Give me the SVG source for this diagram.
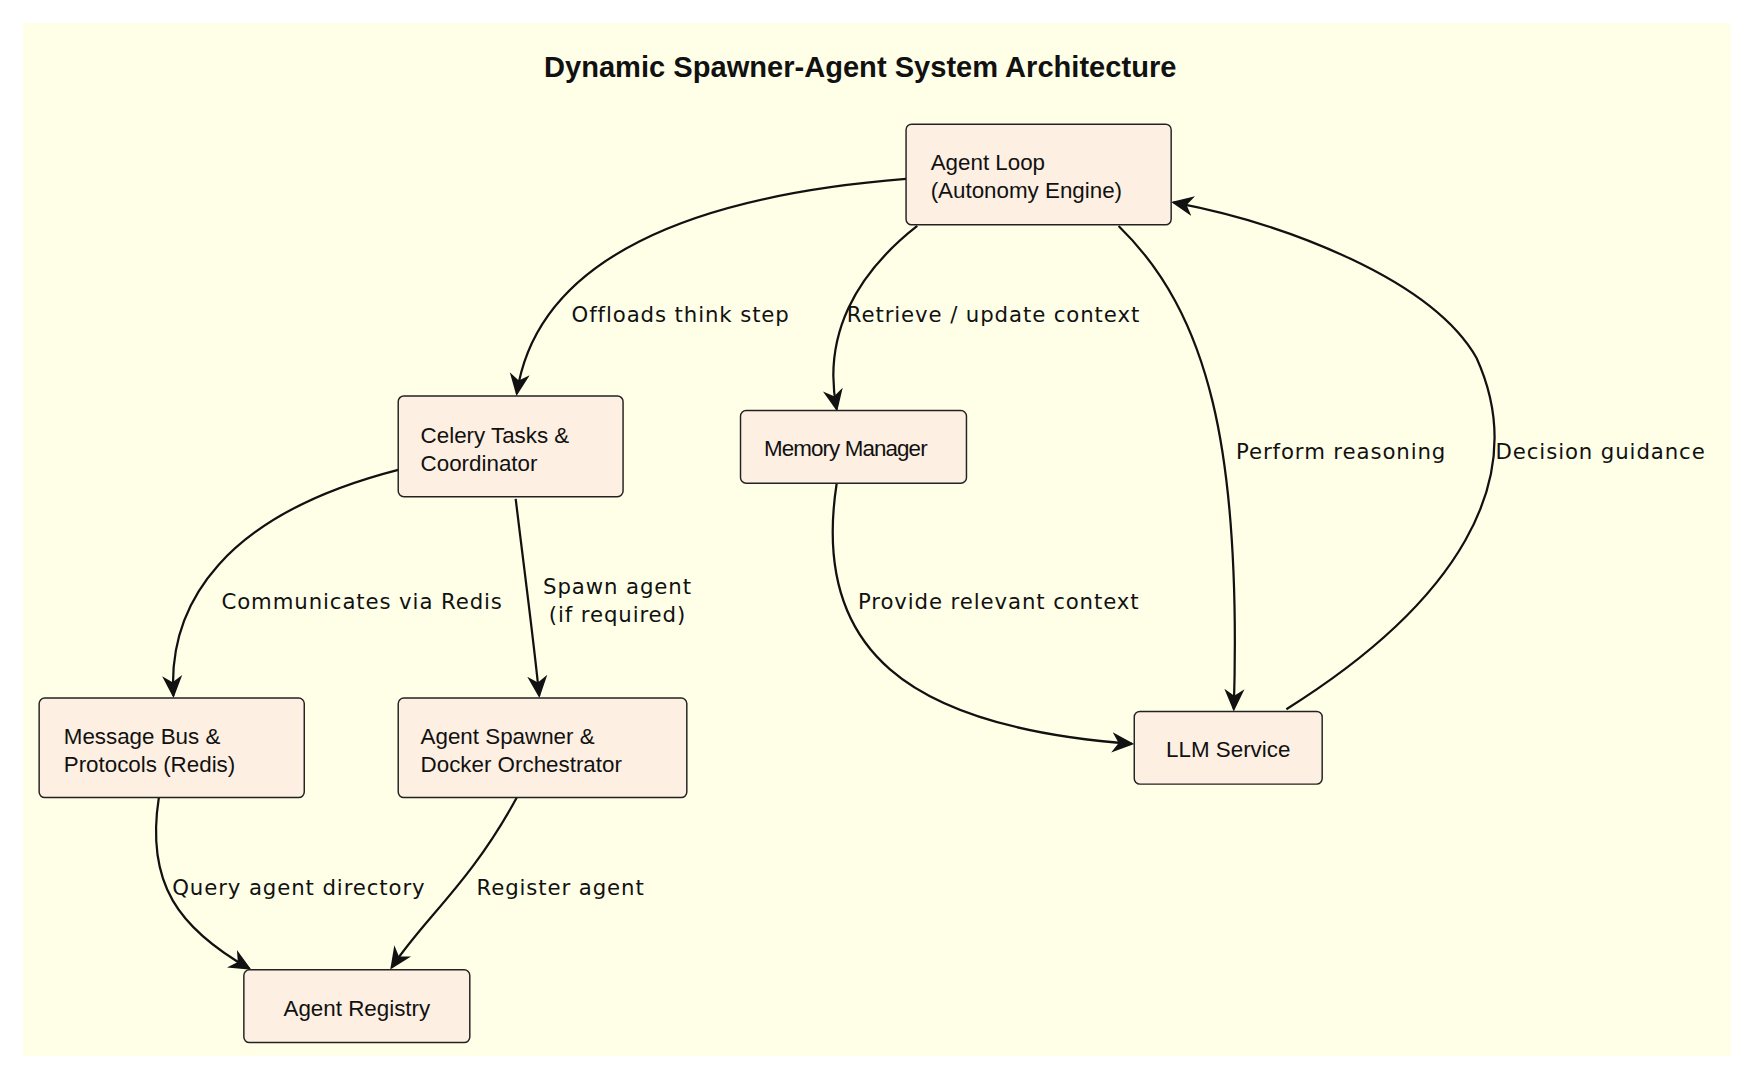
<svg xmlns="http://www.w3.org/2000/svg" width="1754" height="1080" viewBox="0 0 1754 1080">
<style>
.n rect{fill:#FDEFE2;stroke:#222;stroke-width:1.3}
.n text{font-family:"Liberation Sans",Arial,sans-serif;font-size:20px;fill:#111}
.e path{fill:none;stroke:#111;stroke-width:2}
.l{font-family:"DejaVu Sans","Liberation Sans",sans-serif;font-size:19px;fill:#111;letter-spacing:0.8px}
</style>
<defs>
<marker id="a" viewBox="0 0 20 20" refX="18" refY="10" markerWidth="20" markerHeight="20" markerUnits="userSpaceOnUse" orient="auto">
<path d="M0,1 L20,10 L0,19 L6,10 Z" fill="#111"/>
</marker>
</defs>
<rect width="1754" height="1080" fill="#fff"/>
<g transform="scale(1.1186)">
<rect x="20.5" y="20.5" width="1527" height="923.5" fill="#FFFFE8"/>
<text x="769" y="69" text-anchor="middle" font-family="Liberation Sans,Arial,sans-serif" font-weight="bold" font-size="26" fill="#111">Dynamic Spawner-Agent System Architecture</text>
<g class="e">
<path d="M810,160 C620,175 480,230 462,352" marker-end="url(#a)"/>
<path d="M820,202 C765,245 735,300 748,366" marker-end="url(#a)"/>
<path d="M1000,202 C1080,280 1110,400 1103,634" marker-end="url(#a)"/>
<path d="M1150,634 C1300,540 1370,430 1320,320 C1280,250 1150,200 1049,181" marker-end="url(#a)"/>
<path d="M356,420 C200,460 150,540 155,622" marker-end="url(#a)"/>
<path d="M461,446 C470,520 478,580 482,622" marker-end="url(#a)"/>
<path d="M748,432 C725,580 810,650 1012,665" marker-end="url(#a)"/>
<path d="M142,713 C130,790 160,830 223,866" marker-end="url(#a)"/>
<path d="M462,713 C420,790 380,820 350,865" marker-end="url(#a)"/>
</g>
<text class="l" x="511" y="288">Offloads think step</text>
<text class="l" x="757" y="288">Retrieve / update context</text>
<text class="l" x="1105" y="410">Perform reasoning</text>
<text class="l" x="1337" y="410">Decision guidance</text>
<text class="l" x="198" y="544">Communicates via Redis</text>
<text class="l" x="552" y="531" text-anchor="middle">Spawn agent</text>
<text class="l" x="552" y="556" text-anchor="middle">(if required)</text>
<text class="l" x="767" y="544">Provide relevant context</text>
<text class="l" x="154" y="800">Query agent directory</text>
<text class="l" x="426" y="800">Register agent</text>
<g id="agentloop" class="n"><rect x="810" y="111" width="237" height="90" rx="5"/><text x="832" y="152">Agent Loop</text><text x="832" y="177">(Autonomy Engine)</text></g>
<g id="celery" class="n"><rect x="356" y="354" width="201" height="90" rx="5"/><text x="376" y="396">Celery Tasks &amp;</text><text x="376" y="421">Coordinator</text></g>
<g id="memory" class="n"><rect x="662" y="367" width="202" height="65" rx="5"/><text x="683" y="408" letter-spacing="-0.8">Memory Manager</text></g>
<g id="bus" class="n"><rect x="35" y="624" width="237" height="89" rx="5"/><text x="57" y="665">Message Bus &amp;</text><text x="57" y="690">Protocols (Redis)</text></g>
<g id="spawner" class="n"><rect x="356" y="624" width="258" height="89" rx="5"/><text x="376" y="665">Agent Spawner &amp;</text><text x="376" y="690">Docker Orchestrator</text></g>
<g id="llm" class="n"><rect x="1014" y="636" width="168" height="65" rx="5"/><text x="1098" y="677" text-anchor="middle">LLM Service</text></g>
<g id="registry" class="n"><rect x="218" y="867" width="202" height="65" rx="5"/><text x="319" y="908" text-anchor="middle">Agent Registry</text></g>
</g>
</svg>
